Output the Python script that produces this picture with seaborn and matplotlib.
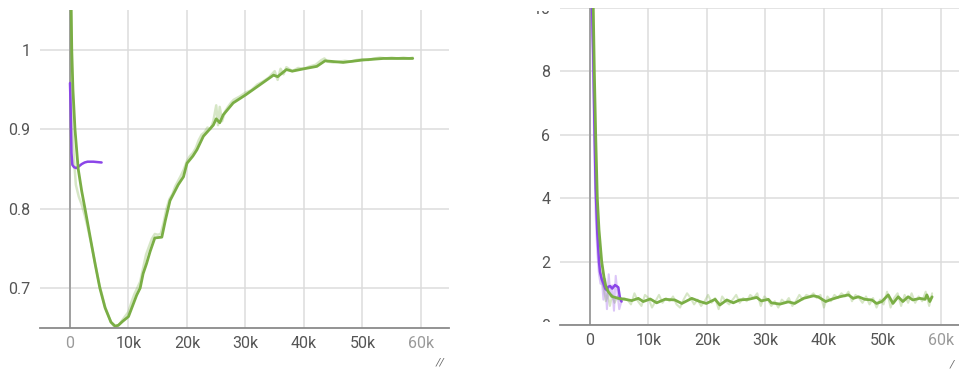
import numpy as np
import pandas as pd
import matplotlib
matplotlib.use("Agg")
import matplotlib.pyplot as plt
from matplotlib.transforms import Bbox, TransformedBbox
import seaborn as sns

# ---------------- data ----------------
# Left panel (accuracy-like metric)
left_green_steps = [0, 150, 300, 500, 850, 1400, 2000, 2560, 3500, 4300, 5100, 6000, 7000, 7700,
                    8260, 9000, 10000, 11400, 12000, 12500, 13100, 13700, 14500, 15700, 16300, 17100,
                    18500, 19400, 20000, 21000, 21700, 22800, 24500, 25000, 25600, 26200, 27900,
                    30000, 32500, 34800, 35500, 37000, 38000, 40000, 42200, 43600, 46700, 50000,
                    53600, 58600]
left_green_vals = [1.20, 1.08, 1.00, 0.95, 0.90, 0.85, 0.822, 0.800, 0.762, 0.730, 0.700, 0.675,
                   0.657, 0.652, 0.653, 0.658, 0.664, 0.691, 0.700, 0.718, 0.731, 0.746, 0.763,
                   0.764, 0.785, 0.810, 0.830, 0.840, 0.857, 0.866, 0.874, 0.891, 0.905, 0.913,
                   0.908, 0.918, 0.933, 0.943, 0.956, 0.968, 0.966, 0.975, 0.973, 0.976, 0.979,
                   0.986, 0.984, 0.987, 0.989, 0.989]

left_green_raw_steps = [0, 200, 400, 700, 1000, 1500, 2000, 2500, 3000, 3500, 4000, 5000, 6000, 7000,
                        7500, 8000, 8500, 9000, 10000, 10500, 11000, 11500, 12000, 12500, 13000,
                        13500, 14000, 14500, 15000, 15500, 16000, 16500, 17000, 17500, 18000, 18500,
                        19000, 19500, 20000, 20500, 21000, 21500, 22000, 22500, 23000, 23500, 24000,
                        24500, 25000, 25300, 25600, 26000, 26500, 27000, 27500, 28000, 29000, 30000,
                        31000, 32000, 33000, 34000, 35000, 35500, 36000, 36500, 37000, 38000, 39000,
                        40000, 41000, 42000, 43000, 43500, 44000, 45000, 46000, 47000, 48000, 49000,
                        50000, 51000, 52000, 53000, 54000, 55000, 56000, 57000, 58000, 58600]
left_green_raw_vals = [1.30, 0.98, 0.90, 0.86, 0.83, 0.815, 0.805, 0.792, 0.777, 0.760, 0.742, 0.705,
                       0.676, 0.657, 0.652, 0.651, 0.655, 0.660, 0.670, 0.682, 0.692, 0.700, 0.708,
                       0.725, 0.742, 0.752, 0.762, 0.768, 0.767, 0.768, 0.782, 0.800, 0.812, 0.818,
                       0.828, 0.835, 0.842, 0.850, 0.860, 0.866, 0.870, 0.876, 0.886, 0.893, 0.896,
                       0.902, 0.900, 0.910, 0.930, 0.905, 0.928, 0.910, 0.922, 0.928, 0.933, 0.937,
                       0.941, 0.946, 0.949, 0.956, 0.960, 0.965, 0.973, 0.962, 0.976, 0.969, 0.978,
                       0.973, 0.977, 0.976, 0.979, 0.981, 0.987, 0.989, 0.985, 0.984, 0.985, 0.986,
                       0.985, 0.987, 0.988, 0.987, 0.989, 0.99, 0.989, 0.99, 0.989, 0.99, 0.989,
                       0.99]

left_purple_steps = [0, 100, 250, 400, 700, 1100, 1500, 2000, 2500, 3000, 4000, 5400]
left_purple_vals = [0.958, 0.93, 0.87, 0.855, 0.852, 0.851, 0.853, 0.856, 0.858, 0.859, 0.859, 0.858]

# Right panel (loss-like metric)
right_green_steps = [0, 300, 560, 740, 970, 1250, 1540, 2000, 2400, 2730, 3130, 3760, 4840, 6000,
                     7130, 8260, 9100, 10300, 11400, 12800, 14500, 15700, 17400, 18800, 19900,
                     21400, 22200, 23400, 24500, 25600, 27100, 28500, 29300, 30500, 31000, 32500,
                     33900, 35000, 36500, 38200, 39000, 40300, 41300, 42700, 44200, 45000, 45900,
                     47000, 48200, 49000, 49900, 51000, 51800, 52700, 53500, 54400, 55200, 56400,
                     57300, 57600, 58100, 58500]
right_green_vals = [14, 11.5, 10, 8, 6, 4, 3, 2, 1.5, 1.2, 1.05, 0.9, 0.84, 0.81, 0.77, 0.84, 0.74,
                    0.82, 0.70, 0.81, 0.79, 0.68, 0.84, 0.74, 0.68, 0.81, 0.63, 0.79, 0.70, 0.79,
                    0.81, 0.87, 0.76, 0.81, 0.70, 0.66, 0.73, 0.68, 0.84, 0.92, 0.89, 0.74, 0.81,
                    0.89, 0.95, 0.84, 0.89, 0.81, 0.79, 0.68, 0.74, 0.95, 0.68, 0.89, 0.74, 0.89,
                    0.79, 0.84, 0.81, 0.95, 0.74, 0.89]

right_green_raw_steps = [0, 300, 560, 740, 970, 1250, 1540, 2000, 2400, 2700, 3000, 3400, 3800, 4200,
                         4700, 5200, 5800, 6400, 7000, 7600, 8200, 8800, 9400, 10000, 10600, 11200,
                         11800, 12400, 13000, 13600, 14200, 14800, 15400, 16000, 16600, 17200, 17800,
                         18400, 19000, 19600, 20200, 20800, 21400, 22000, 22600, 23200, 23800, 24400,
                         25000, 25600, 26200, 26800, 27400, 28000, 28600, 29200, 29800, 30400, 31000,
                         31600, 32200, 32800, 33400, 34000, 34600, 35200, 35800, 36400, 37000, 37600,
                         38200, 38800, 39400, 40000, 40600, 41200, 41800, 42400, 43000, 43600, 44200,
                         44800, 45400, 46000, 46600, 47200, 47800, 48400, 49000, 49600, 50200, 50800,
                         51400, 52000, 52600, 53200, 53800, 54400, 55000, 55600, 56200, 56800, 57400,
                         58000, 58500]
right_green_raw_vals = [16, 10.5, 8.5, 6.5, 4.6, 3.0, 2.2, 1.4, 1.1, 0.75, 1.0, 0.6, 0.95, 0.7, 0.9,
                        0.75, 0.85, 0.8, 0.65, 1.0, 0.75, 0.6, 0.95, 0.85, 0.55, 0.75, 0.95, 0.7,
                        0.85, 0.75, 0.9, 0.65, 0.55, 0.8, 1.0, 0.85, 0.65, 0.8, 0.6, 0.75, 0.95, 0.7,
                        0.85, 0.5, 0.9, 0.75, 0.65, 0.8, 0.95, 0.7, 0.85, 0.75, 0.95, 0.85, 1.0, 0.6,
                        0.9, 0.8, 0.6, 0.75, 0.55, 0.8, 0.7, 0.85, 0.6, 0.75, 0.95, 0.8, 0.95, 0.9,
                        1.0, 0.85, 0.95, 0.55, 0.9, 0.75, 0.95, 0.85, 1.0, 0.9, 1.05, 0.75, 0.95,
                        0.85, 0.7, 0.9, 0.65, 0.85, 0.55, 0.8, 0.65, 1.05, 0.55, 0.85, 1.0, 0.6, 0.95,
                        0.7, 1.0, 0.7, 0.9, 0.75, 1.05, 0.6, 1.0]

right_purple_steps = [0, 300, 560, 740, 970, 1250, 1540, 1700, 2000, 2280, 2600, 2850, 3100, 3420,
                      3800, 4270, 4600, 4840, 5130, 5400]
right_purple_vals = [14, 10.5, 8.5, 6.5, 4.3, 2.9, 2.0, 1.68, 1.45, 1.32, 1.15, 1.1, 1.2, 1.23,
                     1.15, 1.26, 1.22, 1.19, 0.85, 0.74]

right_purple_raw_steps = [0, 300, 560, 740, 970, 1250, 1540, 1800, 2000, 2300, 2600, 2900, 3200,
                          3500, 3800, 4100, 4400, 4700, 5000, 5300, 5400]
right_purple_raw_vals = [15, 9.5, 7.5, 5.5, 3.5, 2.3, 1.6, 1.3, 1.5, 0.8, 1.45, 0.5, 1.6, 0.9,
                         1.25, 0.45, 1.55, 1.0, 0.5, 0.7, 0.85]

x_ticks = [0, 10000, 20000, 30000, 40000, 50000, 60000]
x_tick_labels = ["0", "10k", "20k", "30k", "40k", "50k", "60k"]
left_y_ticks = [0.7, 0.8, 0.9, 1.0]
left_y_labels = ["0.7", "0.8", "0.9", "1"]
right_y_ticks = [0, 2, 4, 6, 8, 10]
right_y_labels = ["0", "2", "4", "6", "8", "10"]

# ---------------- style ----------------
sns.set_theme(style="whitegrid")
plt.rcParams["font.family"] = ["Roboto", "DejaVu Sans"]

GREEN = "#7aae45"
PURPLE = "#8b45e8"
GRID = "#dcdcdc"
TEXT = "#555555"

W, H = 959, 370
fig = plt.figure(figsize=(W / 100, H / 100), dpi=100)

def px_axes(x0, y0, x1, y1):
    return fig.add_axes([x0 / W, 1 - y1 / H, (x1 - x0) / W, (y1 - y0) / H])

axL = px_axes(40, 10, 449, 328)
axR = px_axes(560, 8, 959, 325)

def draw(ax, series):
    for steps, vals, color, alpha, lw in series:
        df = pd.DataFrame({"step": steps, "value": vals})
        sns.lineplot(data=df, x="step", y="value", ax=ax, color=color, alpha=alpha,
                     linewidth=lw, estimator=None, sort=False)

draw(axL, [
    (left_green_raw_steps, left_green_raw_vals, GREEN, 0.3, 1.8),
    (left_purple_steps, left_purple_vals, PURPLE, 1.0, 1.8),
    (left_green_steps, left_green_vals, GREEN, 1.0, 2.0),
])
draw(axR, [
    (right_green_raw_steps, right_green_raw_vals, GREEN, 0.3, 1.5),
    (right_purple_raw_steps, right_purple_raw_vals, PURPLE, 0.3, 1.5),
    (right_purple_steps, right_purple_vals, PURPLE, 1.0, 1.8),
    (right_green_steps, right_green_vals, GREEN, 1.0, 2.0),
])

def style(ax, xlim, ylim, yticks, ylabels):
    ax.set_xlim(*xlim)
    ax.set_ylim(*ylim)
    ax.set_xticks(x_ticks)
    ax.set_xticklabels(x_tick_labels)
    ax.set_yticks(yticks)
    ax.set_yticklabels(ylabels)
    ax.set_xlabel("")
    ax.set_ylabel("")
    ax.set_facecolor("white")
    ax.grid(True, color=GRID, linewidth=1.1)
    ax.axvline(0, color="#a0a0a0", linewidth=1.4, zorder=1.5)
    for s in ["top", "right", "left"]:
        ax.spines[s].set_visible(False)
    ax.spines["bottom"].set_color("#8a8a8a")
    ax.spines["bottom"].set_linewidth(1.3)
    ax.tick_params(axis="both", length=0, labelsize=11.5, colors=TEXT)
    ax.tick_params(axis="x", pad=6)
    ax.tick_params(axis="y", pad=7)
    labels = ax.get_xticklabels()
    labels[-1].set_color("#9a9a9a")

style(axL, (-5130, 64800), (0.6496, 1.05), left_y_ticks, left_y_labels)
style(axR, (-5130, 63100), (0, 10.0), right_y_ticks, right_y_labels)
axL.get_xticklabels()[0].set_color("#9a9a9a")

# the screenshot cuts the right panel's edge y labels ("10" and "0") at the plot area
clip = TransformedBbox(Bbox([[0.5, 1 - 322 / H], [0.6, 1 - 11 / H]]), fig.transFigure)
for t in axR.yaxis.get_major_ticks():
    t.label1.set_clip_on(True)
    t.label1.set_clip_box(clip)

# resize handles
fig.text(440 / W, 1 - 363 / H, "//", fontsize=8, color="#666666", ha="center", va="center",
         style="italic")
fig.text(952 / W, 1 - 365 / H, "/", fontsize=8, color="#666666", ha="center", va="center",
         style="italic")

fig.savefig("out.png", dpi=100, facecolor="white")
